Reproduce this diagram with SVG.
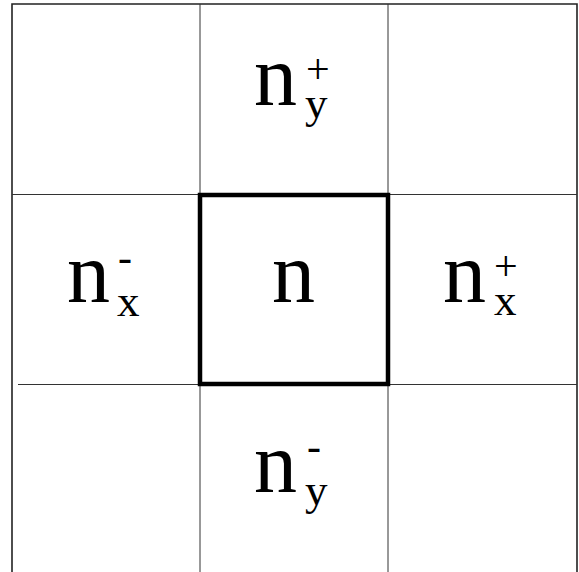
<svg xmlns="http://www.w3.org/2000/svg" width="579" height="572" viewBox="0 0 579 572">
<style>
.grid{stroke:#333;stroke-width:1;fill:none}
.border{stroke:#222;stroke-width:1.6;fill:none}
.big{font-family:"Liberation Serif","Times New Roman",serif;font-size:86px;fill:#000}
.sub{font-size:45px}
.sup{font-size:42px}
</style>
<rect x="0" y="0" width="579" height="572" fill="#fff"/>
<g id="grid">
<path class="border" d="M12,572 V4 H577 V572"/>
<path class="grid" d="M200,4 V572 M388,4 V572 M12,194.5 H577 M18,384.5 H577"/>
</g>
<g id="connectors"></g>
<g id="node-n-y-plus">
<text class="big" x="254" y="105">n<tspan class="sup" x="306" y="83">+</tspan><tspan class="sub" x="305" y="118">y</tspan></text>
</g>
<g id="node-n-x-minus">
<text class="big" x="67" y="302">n<tspan class="sup" x="118" y="271">-</tspan><tspan class="sub" x="117" y="316">x</tspan></text>
</g>
<g id="node-n">
<rect x="200" y="195" width="188" height="189" fill="none" stroke="#000" stroke-width="4.5"/>
<text class="big" x="272" y="302">n</text>
</g>
<g id="node-n-x-plus">
<text class="big" x="443" y="302">n<tspan class="sup" x="494" y="280">+</tspan><tspan class="sub" x="494" y="315">x</tspan></text>
</g>
<g id="node-n-y-minus">
<text class="big" x="254" y="492">n<tspan class="sup" x="307" y="460">-</tspan><tspan class="sub" x="305" y="505">y</tspan></text>
</g>
</svg>
